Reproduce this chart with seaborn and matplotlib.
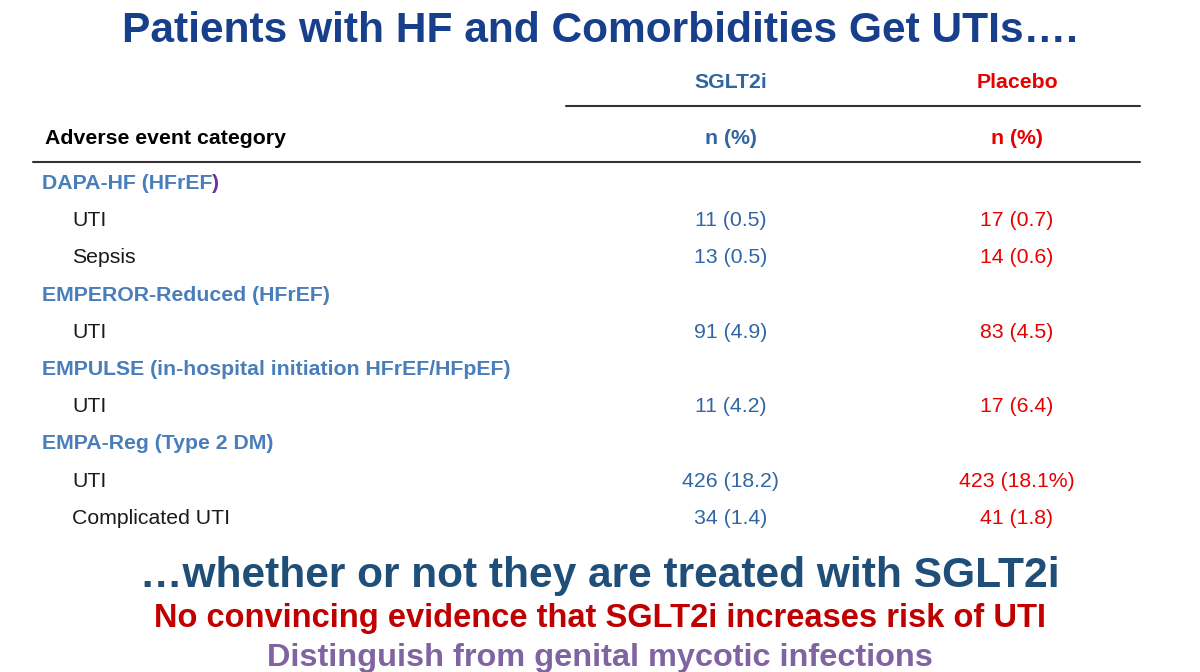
import matplotlib
matplotlib.use("Agg")
import matplotlib.pyplot as plt
import seaborn as sns

# ---- data ----
title = "Patients with HF and Comorbidities Get UTIs…."
col_headers = ["SGLT2i", "Placebo"]
unit_header = "n (%)"
first_col_header = "Adverse event category"
row_labels = ["DAPA-HF (HFrEF)", "UTI", "Sepsis",
              "EMPEROR-Reduced (HFrEF)", "UTI",
              "EMPULSE (in-hospital initiation HFrEF/HFpEF)", "UTI",
              "EMPA-Reg (Type 2 DM)", "UTI", "Complicated UTI"]
row_is_group = [True, False, False, True, False, True, False, True, False, False]
sglt2_values = ["", "11 (0.5)", "13 (0.5)", "", "91 (4.9)", "", "11 (4.2)", "",
                "426 (18.2)", "34 (1.4)"]
placebo_values = ["", "17 (0.7)", "14 (0.6)", "", "83 (4.5)", "", "17 (6.4)", "",
                  "423 (18.1%)", "41 (1.8)"]
footer_lines = ["…whether or not they are treated with SGLT2i",
                "No convincing evidence that SGLT2i increases risk of UTI",
                "Distinguish from genital mycotic infections"]

# ---- style ----
sns.set_theme(style="white")
plt.rcParams['font.family'] = ['Liberation Sans', 'DejaVu Sans']

C_TITLE = "#173F8C"
C_BLUE = "#2F66A3"
C_GROUP = "#4A7EBB"
C_PURPLE = "#7030A0"
C_RED = "#E60000"
C_TEXT = "#1A1A1A"
C_FOOT1 = "#1F4E79"
C_FOOT2 = "#C00000"
C_FOOT3 = "#8064A2"
FS = 15.3

fig = plt.figure(figsize=(12, 6.72), dpi=100)
ax = fig.add_axes([0, 0, 1, 1])
ax.set_xlim(0, 1200)
ax.set_ylim(672, 0)
ax.axis("off")

ax.text(600, 31, title, ha="center", va="center", fontsize=30.6,
        fontweight="bold", color=C_TITLE)

col_x = [731, 1017]
col_colors = [C_BLUE, C_RED]
for x, h, c in zip(col_x, col_headers, col_colors):
    ax.text(x, 82, h, ha="center", va="center", fontsize=FS,
            fontweight="bold", color=c)
    ax.text(x, 138, unit_header, ha="center", va="center", fontsize=FS,
            fontweight="bold", color=c)
ax.text(45, 138, first_col_header, ha="left", va="center", fontsize=FS,
        fontweight="bold", color="black")

ax.plot([566, 1140], [106, 106], color="#333333", lw=1.5)
ax.plot([33, 1140], [162, 162], color="#333333", lw=1.5)

y0, step = 183.5, 37.2
for i, (lab, grp, v1, v2) in enumerate(zip(row_labels, row_is_group,
                                            sglt2_values, placebo_values)):
    y = y0 + i * step
    if grp:
        if i == 0:
            t = ax.text(42, y, lab[:-1], ha="left", va="center", fontsize=FS,
                        fontweight="bold", color=C_GROUP)
            ax.annotate(lab[-1], xy=(1, 0), xycoords=t, ha="left", va="bottom",
                        fontsize=FS, fontweight="bold", color=C_PURPLE)
        else:
            ax.text(42, y, lab, ha="left", va="center", fontsize=FS,
                    fontweight="bold", color=C_GROUP)
    else:
        ax.text(72, y, lab, ha="left", va="center", fontsize=FS,
                color=C_TEXT)
        ax.text(col_x[0], y, v1, ha="center", va="center", fontsize=FS,
                color=C_BLUE)
        ax.text(col_x[1], y, v2, ha="center", va="center", fontsize=FS,
                color=C_RED)

ax.text(600, 576, footer_lines[0], ha="center", va="center", fontsize=30.6,
        fontweight="bold", color=C_FOOT1)
ax.text(600, 618, footer_lines[1], ha="center", va="center", fontsize=23.5,
        fontweight="bold", color=C_FOOT2)
ax.text(600, 658, footer_lines[2], ha="center", va="center", fontsize=23.4,
        fontweight="bold", color=C_FOOT3)

fig.savefig("out.png", dpi=100, facecolor="white")
